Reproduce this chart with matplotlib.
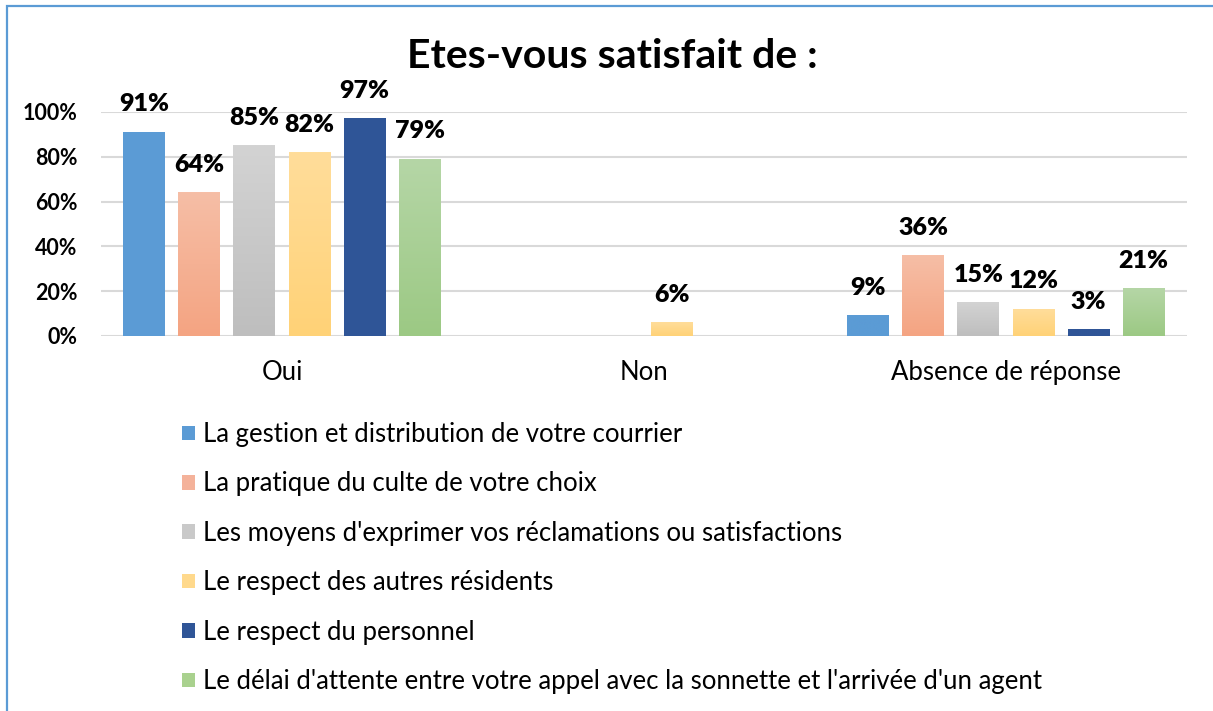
import matplotlib
matplotlib.use("Agg")
import matplotlib.pyplot as plt
import numpy as np
from matplotlib.colors import LinearSegmentedColormap, to_rgb
from matplotlib.patches import Patch, Rectangle

plt.rcParams['font.family'] = ['Lato', 'DejaVu Sans']

categories = ["Oui", "Non", "Absence de réponse"]
series_names = [
    "La gestion et distribution de votre courrier",
    "La pratique du culte de votre choix",
    "Les moyens d'exprimer vos réclamations ou satisfactions",
    "Le respect des autres résidents",
    "Le respect du personnel",
    "Le délai d'attente entre votre appel avec la sonnette et l'arrivée d'un agent",
]
gestion = [0.91, 0.0, 0.09]
culte = [0.64, 0.0, 0.36]
moyens = [0.85, 0.0, 0.15]
residents = [0.82, 0.06, 0.12]
personnel = [0.97, 0.0, 0.03]
delai = [0.79, 0.0, 0.21]
series_values = [gestion, culte, moyens, residents, personnel, delai]
yticks = [0, 0.2, 0.4, 0.6, 0.8, 1.0]
ytick_labels = ["0%", "20%", "40%", "60%", "80%", "100%"]
title = "Etes-vous satisfait de :"

# (top colour, bottom colour) for each series
colors = [
    ("#5B9BD5", "#5B9BD5"),
    ("#F6BEA6", "#F4A482"),
    ("#D3D3D3", "#BEBEBE"),
    ("#FFDD9A", "#FFD277"),
    ("#2F5597", "#2F5597"),
    ("#B5D6A6", "#9CC984"),
]
legend_colors = ["#5B9BD5", "#F4B29A", "#C9C9C9", "#FFD98C", "#2F5597", "#A9D18E"]

W, H = 1213, 711
fig = plt.figure(figsize=(W / 100, H / 100), dpi=100)
ax = fig.add_axes([101 / W, 1 - 336 / H, (1187 - 101) / W, (336 - 112) / H])

step = 0.152
width = 0.116
x = np.arange(len(categories))
for i, (vals, (ctop, cbot)) in enumerate(zip(series_values, colors)):
    off = (i - 2.5) * step
    cmap = LinearSegmentedColormap.from_list(f"g{i}", [to_rgb(cbot), to_rgb(ctop)])
    bars = ax.bar(x + off, vals, width, color="none", edgecolor="none", zorder=3)
    for b, v in zip(bars, vals):
        if v <= 0:
            continue
        x0 = b.get_x()
        grad = np.linspace(0, 1, 64).reshape(-1, 1)
        ax.imshow(grad, extent=(x0, x0 + width, 0, v), origin="lower",
                  cmap=cmap, aspect="auto", zorder=3, interpolation="bilinear")
        ax.annotate(f"{round(v * 100):d}%", (b.get_x() + width / 2, v),
                    xytext=(0, 12), textcoords="offset points",
                    ha="center", va="bottom", fontsize=18, fontweight="heavy",
                    color="#000000", zorder=4, annotation_clip=False)

ax.set_xlim(-0.5, 2.5)
ax.set_ylim(0, 1.0)
ax.set_yticks(yticks)
ax.set_yticklabels(ytick_labels, fontsize=15.5, fontweight="bold")
ax.set_xticks(x)
ax.set_xticklabels(categories, fontsize=18.5)
ax.tick_params(axis="both", length=0)
ax.tick_params(axis="y", pad=17)
ax.tick_params(axis="x", pad=17)
ax.yaxis.grid(True, color="#D9D9D9", linewidth=1.5, zorder=0)
ax.set_axisbelow(True)
for s in ax.spines.values():
    s.set_visible(False)
ax.set_facecolor("none")

fig.text(612 / W, 1 - 56 / H, title, ha="center", va="center",
         fontsize=29.5, fontweight="bold")

handles = [Patch(facecolor=c, edgecolor="none") for c in legend_colors]
leg = fig.legend(handles, series_names, loc="upper left",
                 bbox_to_anchor=(182 / W, 1 - 422 / H), frameon=False,
                 fontsize=18.5, handlelength=0.5, handleheight=0.5,
                 handletextpad=0.32, labelspacing=0.95, borderaxespad=0,
                 borderpad=0)

# outer frame
fig.patches.append(Rectangle((7 / W, -0.05), 1.2, 1 - 6 / H + 0.05,
                             transform=fig.transFigure, fill=False,
                             edgecolor="#5B9BD5", linewidth=1.6))

fig.savefig("out.png", dpi=100)
